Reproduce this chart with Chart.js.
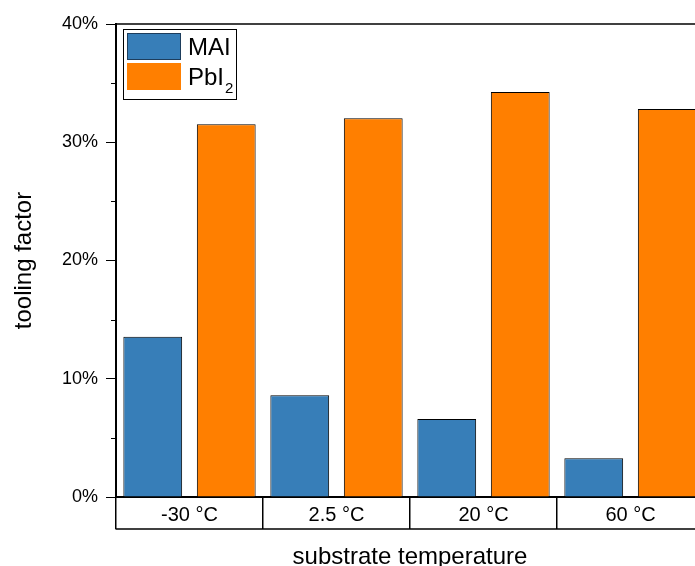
<!DOCTYPE html>
<html>
<head>
<meta charset="utf-8">
<script src="https://cdn.jsdelivr.net/npm/chart.js@4/dist/chart.umd.min.js"></script>
<style>
  html, body { margin: 0; padding: 0; background: #fff; overflow: hidden; }
  #wrap { width: 710px; height: 566px; }
</style>
</head>
<body>
<div id="wrap"><canvas id="c" width="710" height="566"></canvas></div>
<script>
// ---- data ----
const categories = ['-30 °C', '2.5 °C', '20 °C', '60 °C'];
const seriesNames = ['MAI', 'PbI₂'];
const maiValues = [13.56, 8.60, 6.60, 3.27];
const pbi2Values = [31.52, 32.03, 34.25, 32.81];
const yTicks = [0, 10, 20, 30, 40];
const yMinorTicks = [5, 15, 25, 35];
const xTitle = 'substrate temperature';
const yTitle = 'tooling factor';

const FONT = "'Liberation Sans', Arial, Helvetica, sans-serif";
Chart.defaults.font.family = FONT;
Chart.defaults.color = '#000';

const colors = ['#377EB8', '#FF7F00'];

const framePlugin = {
  id: 'frame',
  afterDraw(chart) {
    const ctx = chart.ctx;
    const a = chart.chartArea;
    const y = chart.scales.y;
    ctx.save();
    ctx.strokeStyle = '#000';
    // top frame line
    ctx.lineWidth = 1.5;
    ctx.beginPath();
    ctx.moveTo(a.left, a.top);
    ctx.lineTo(a.right + 2, a.top);
    ctx.stroke();
    // minor ticks
    ctx.lineWidth = 1;
    yMinorTicks.forEach(v => {
      const py = Math.round(y.getPixelForValue(v)) + 0.5;
      ctx.beginPath();
      ctx.moveTo(a.left - 5, py);
      ctx.lineTo(a.left, py);
      ctx.stroke();
    });
    // bottom line of category box
    ctx.lineWidth = 1.5;
    const by = a.bottom + 32;
    ctx.beginPath();
    ctx.moveTo(a.left - 0.5, by);
    ctx.lineTo(a.right + 2, by);
    ctx.stroke();

    // legend
    const lx = a.left + 7, ly = a.top + 5;
    const lw = 113, lh = 70;
    ctx.fillStyle = '#fff';
    ctx.fillRect(lx, ly, lw, lh);
    ctx.lineWidth = 1;
    ctx.strokeStyle = '#000';
    ctx.strokeRect(lx + 0.5, ly + 0.5, lw, lh);
    chart.data.datasets.forEach((ds, i) => {
      const sy = ly + 4 + i * 30;
      ctx.fillStyle = ds.backgroundColor;
      ctx.fillRect(lx + 4, sy, 54, 27);
      if (i === 0) {
        ctx.strokeStyle = '#1d3d5c';
        ctx.lineWidth = 1;
        ctx.strokeRect(lx + 4.5, sy + 0.5, 53, 26);
      }
      // label with subscript digits
      const label = ds.label;
      const subMap = {'₀':'0','₁':'1','₂':'2','₃':'3','₄':'4','₅':'5','₆':'6','₇':'7','₈':'8','₉':'9'};
      let tx = lx + 65;
      const base = sy + 22;
      ctx.fillStyle = '#000';
      ctx.textBaseline = 'alphabetic';
      ctx.textAlign = 'left';
      for (const ch of label) {
        if (subMap[ch]) {
          ctx.font = '15px ' + FONT;
          ctx.fillText(subMap[ch], tx + 1, base + 8);
          tx += ctx.measureText(subMap[ch]).width + 1;
        } else {
          ctx.font = '24px ' + FONT;
          ctx.fillText(ch, tx, base);
          tx += ctx.measureText(ch).width;
        }
      }
    });
    ctx.restore();
  }
};

new Chart(document.getElementById('c'), {
  type: 'bar',
  data: {
    labels: categories,
    datasets: [
      { label: seriesNames[0], data: maiValues, backgroundColor: colors[0], borderColor: '#000', borderWidth: 1 },
      { label: seriesNames[1], data: pbi2Values, backgroundColor: colors[1], borderColor: '#000', borderWidth: 1 }
    ]
  },
  options: {
    responsive: false,
    animation: false,
    devicePixelRatio: 1,
    layout: { padding: { left: 0, right: 6, top: 24, bottom: 0 } },
    datasets: { bar: { categoryPercentage: 1.0, barPercentage: 0.8 } },
    plugins: { legend: { display: false }, tooltip: { enabled: false } },
    scales: {
      x: {
        type: 'category',
        offset: true,
        grid: { offset: true, drawOnChartArea: false, drawTicks: true, tickLength: 32, color: '#000', lineWidth: 1.5 },
        border: { display: true, color: '#000', width: 2 },
        ticks: { font: { size: 20 }, color: '#000', padding: -26, maxRotation: 0, autoSkip: false },
        title: { display: true, text: xTitle, font: { size: 24, lineHeight: 1 }, color: '#000', padding: { top: 0, bottom: -3 } },
        afterFit: (s) => { s.height = 69; }
      },
      y: {
        min: 0, max: 40,
        afterBuildTicks: (s) => { s.ticks = yTicks.map(v => ({ value: v })); },
        ticks: { font: { size: 18 }, color: '#000', padding: 8, callback: (v) => v + '%' },
        grid: { drawOnChartArea: false, drawTicks: true, tickLength: 10, color: '#000', lineWidth: 1 },
        border: { display: true, color: '#000', width: 2 },
        title: { display: true, text: yTitle, font: { size: 24, lineHeight: 1 }, color: '#000', padding: { top: 12, bottom: 0 } },
        afterFit: (s) => { s.width = 116; }
      }
    }
  },
  plugins: [framePlugin]
});
</script>
</body>
</html>
